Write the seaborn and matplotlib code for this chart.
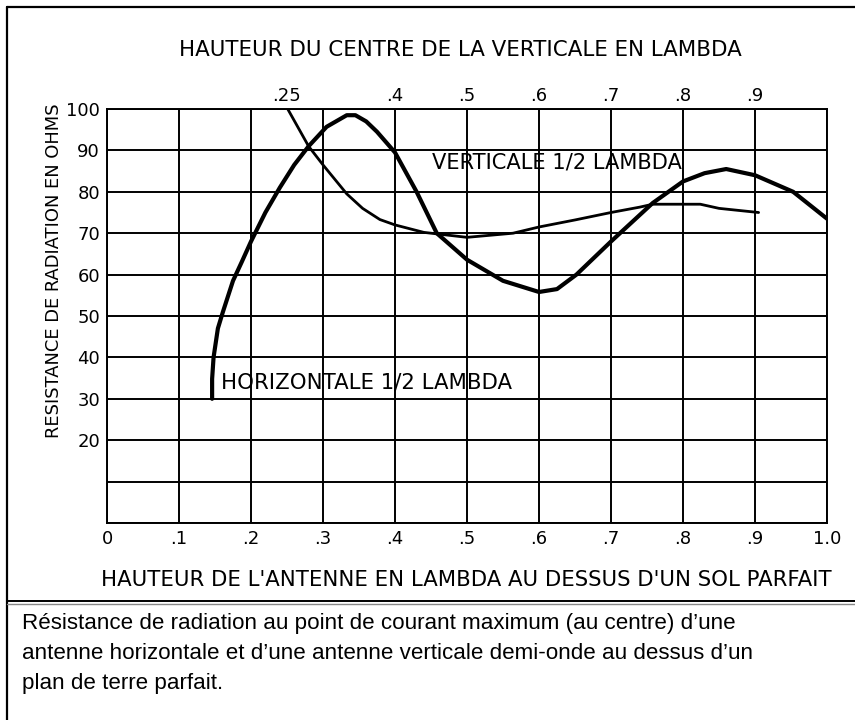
import matplotlib
matplotlib.use('Agg')
import matplotlib.pyplot as plt
from matplotlib.lines import Line2D
import pandas as pd
import seaborn as sns

# curves (height in lambda, resistance in ohms)
horiz_x = [0.146, 0.146, 0.148, 0.154, 0.161, 0.175, 0.187, 0.200, 0.220, 0.240, 0.260,
           0.280, 0.305, 0.333, 0.345, 0.360, 0.375, 0.400, 0.430, 0.458, 0.500, 0.550,
           0.600, 0.625, 0.652, 0.700, 0.758, 0.800, 0.830, 0.860, 0.900, 0.953, 1.000]
horiz_y = [30, 34.8, 40, 47, 51, 58.5, 63, 68, 75, 81, 86.5,
           91, 95.7, 98.5, 98.5, 97, 94.5, 89.5, 80, 70, 63.6, 58.5,
           55.8, 56.5, 60, 68, 77.3, 82.5, 84.5, 85.5, 84, 80, 73.5]

vert_x = [0.251, 0.280, 0.300, 0.333, 0.355, 0.379, 0.400, 0.440, 0.500, 0.564,
          0.600, 0.650, 0.700, 0.740, 0.758, 0.800, 0.824, 0.850, 0.905]
vert_y = [100, 91, 86.5, 79.5, 76, 73.3, 72, 70.2, 69, 70,
          71.5, 73.2, 75, 76.3, 77, 77, 77, 76, 75]

bottom_ticks = [0, 0.1, 0.2, 0.3, 0.4, 0.5, 0.6, 0.7, 0.8, 0.9, 1.0]
bottom_labels = ['0', '.1', '.2', '.3', '.4', '.5', '.6', '.7', '.8', '.9', '1.0']
top_ticks = [0.25, 0.4, 0.5, 0.6, 0.7, 0.8, 0.9]
top_labels = ['.25', '.4', '.5', '.6', '.7', '.8', '.9']
y_ticks = [0, 10, 20, 30, 40, 50, 60, 70, 80, 90, 100]
y_labels = ['', '', '20', '30', '40', '50', '60', '70', '80', '90', '100']

caption = ("Résistance de radiation au point de courant maximum (au centre) d\u2019une\n"
           "antenne horizontale et d\u2019une antenne verticale demi-onde au dessus d\u2019un\n"
           "plan de terre parfait.")

sns.set_style('white')
plt.rcParams['font.family'] = ['DejaVu Sans']
plt.rcParams['text.color'] = 'black'
plt.rcParams['xtick.color'] = 'black'
plt.rcParams['ytick.color'] = 'black'

W, H = 855, 720
fig = plt.figure(figsize=(W / 100, H / 100), dpi=100)
ax = fig.add_axes([107 / W, 1 - 523 / H, 720 / W, 414 / H])

horiz = pd.DataFrame({'x': horiz_x, 'y': horiz_y})
vert = pd.DataFrame({'x': vert_x, 'y': vert_y})
sns.lineplot(data=horiz, x='x', y='y', sort=False, estimator=None,
             color='black', lw=3.0, ax=ax)
sns.lineplot(data=vert, x='x', y='y', sort=False, estimator=None,
             color='black', lw=2.0, ax=ax)

ax.set_xlim(0, 1)
ax.set_ylim(0, 100)
ax.set_xticks(bottom_ticks)
ax.set_xticklabels(bottom_labels, fontsize=13)
ax.set_yticks(y_ticks)
ax.set_yticklabels(y_labels, fontsize=13)
ax.tick_params(axis='both', direction='out', length=3, width=1.2, color='black', pad=2)
ax.set_xlabel('')
ax.set_ylabel('')
ax.grid(True, color='black', lw=1.4)
ax.set_axisbelow(True)
for s in ax.spines.values():
    s.set_color('black')
    s.set_linewidth(1.4)

top = ax.secondary_xaxis('top')
top.set_xticks(top_ticks)
top.set_xticklabels(top_labels, fontsize=13)
top.tick_params(length=0, pad=3)
top.spines['top'].set_visible(False)

ax.text(0.451, 87, 'VERTICALE 1/2 LAMBDA', fontsize=15.1, va='center', ha='left')
ax.text(0.158, 34, 'HORIZONTALE 1/2 LAMBDA', fontsize=15.3, va='center', ha='left')

fig.text(460 / W, 1 - 50 / H, 'HAUTEUR DU CENTRE DE LA VERTICALE EN LAMBDA',
         fontsize=15.4, ha='center', va='center')
fig.text(466 / W, 1 - 580 / H, "HAUTEUR DE L'ANTENNE EN LAMBDA AU DESSUS D'UN SOL PARFAIT",
         fontsize=15.3, ha='center', va='center')
fig.text(54 / W, 1 - 271 / H, 'RESISTANCE DE RADIATION EN OHMS',
         fontsize=12.9, rotation=90, ha='center', va='center')

fig.text(22 / W, 1 - 613 / H, caption, fontsize=16.1, family=['Liberation Sans', 'DejaVu Sans'],
         ha='left', va='top', linespacing=1.55)

# frame around chart and caption
fig.add_artist(Line2D([7 / W, 7 / W], [0, 1 - 7 / H], color='black', lw=1.6))
fig.add_artist(Line2D([7 / W, 1], [1 - 7 / H, 1 - 7 / H], color='black', lw=1.6))
fig.add_artist(Line2D([7 / W, 1], [1 - 601 / H, 1 - 601 / H], color='black', lw=1.4))
fig.add_artist(Line2D([7 / W, 1], [1 - 604 / H, 1 - 604 / H], color='#888888', lw=1.0))

fig.savefig('out.png', dpi=100)
